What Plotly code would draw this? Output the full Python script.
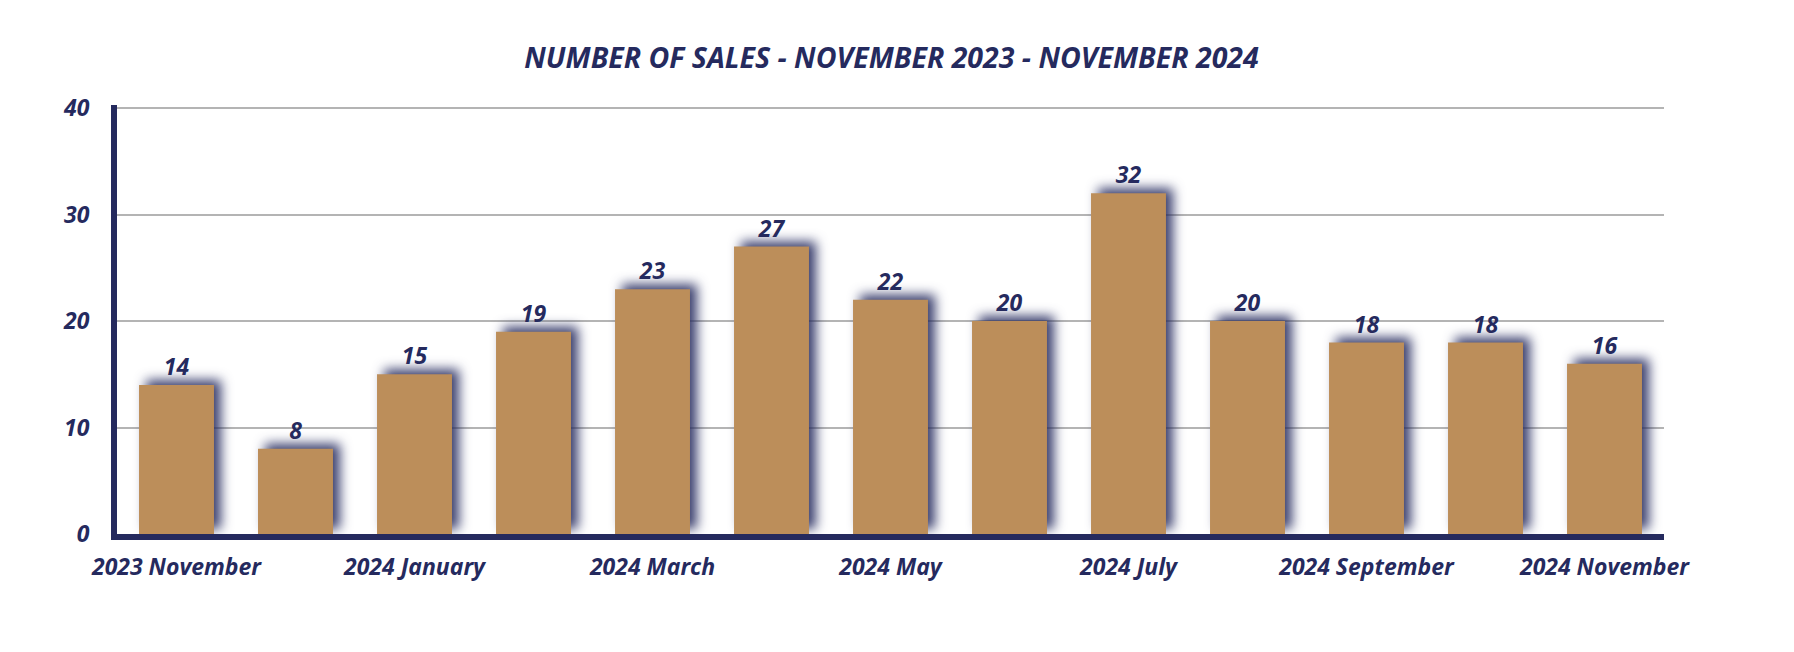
import plotly.graph_objects as go

# monthly sales, November 2023 to November 2024
months = ["2023 November", "2023 December", "2024 January", "2024 February",
          "2024 March", "2024 April", "2024 May", "2024 June", "2024 July",
          "2024 August", "2024 September", "2024 October", "2024 November"]
sales = [14, 8, 15, 19, 23, 27, 22, 20, 32, 20, 18, 18, 16]
y_ticks = [0, 10, 20, 30, 40]

navy = "rgb(37,42,94)"
tan = "rgb(188,142,90)"
font_family = "'Open Sans', Lato, sans-serif"

fig = go.Figure()

fig.add_trace(go.Bar(
    x=months, y=sales,
    marker=dict(color=tan, line=dict(width=0)),
    hoverinfo="x+y",
))

# value labels sit a little above the bars, an invisible marker pushes them up
fig.add_trace(go.Scatter(
    x=months, y=sales,
    mode="markers+text",
    text=[str(v) for v in sales],
    textposition="top center",
    marker=dict(size=5, color="rgba(0,0,0,0)"),
    textfont=dict(family=font_family, size=23, color=navy, weight=700, style="italic"),
    hoverinfo="skip",
    cliponaxis=False,
))

fig.update_layout(
    width=1794, height=652,
    showlegend=False,
    plot_bgcolor="white",
    paper_bgcolor="white",
    bargap=0.37,
    margin=dict(l=109, r=138, t=97, b=126),
    font=dict(family=font_family, color=navy),
    title=dict(
        text="NUMBER OF SALES - NOVEMBER 2023 - NOVEMBER 2024",
        xref="container", yref="container",
        x=0.4925, y=1 - 50 / 652,
        xanchor="center", yanchor="middle",
        font=dict(family=font_family, size=28.5, color=navy, weight=700, style="italic"),
    ),
    xaxis=dict(
        range=[-0.5, len(months) - 0.5],
        tickvals=months[::2],
        ticktext=months[::2],
        showgrid=False,
        showline=True, linecolor=navy, linewidth=6,
        ticks="",
        ticklabelstandoff=7,
        automargin=False,
        tickfont=dict(family=font_family, size=23, color=navy, weight=700, style="italic"),
    ),
    yaxis=dict(
        range=[0, 40.3],
        tickvals=y_ticks,
        showgrid=True, gridcolor="rgb(180,180,180)", gridwidth=1.5,
        zeroline=False,
        showline=True, linecolor=navy, linewidth=6,
        ticks="",
        ticklabelstandoff=17,
        automargin=False,
        tickfont=dict(family=font_family, size=23, color=navy, weight=700, style="italic"),
    ),
)

# soft navy drop shadow behind the bars
shadow_js = """
var st = document.createElement('style');
st.innerHTML = '.barlayer .point path { filter: drop-shadow(7px -5px 6px rgba(37,42,94,0.9)); }';
document.head.appendChild(st);
"""

fig.write_html("out.html", post_script=shadow_js)
